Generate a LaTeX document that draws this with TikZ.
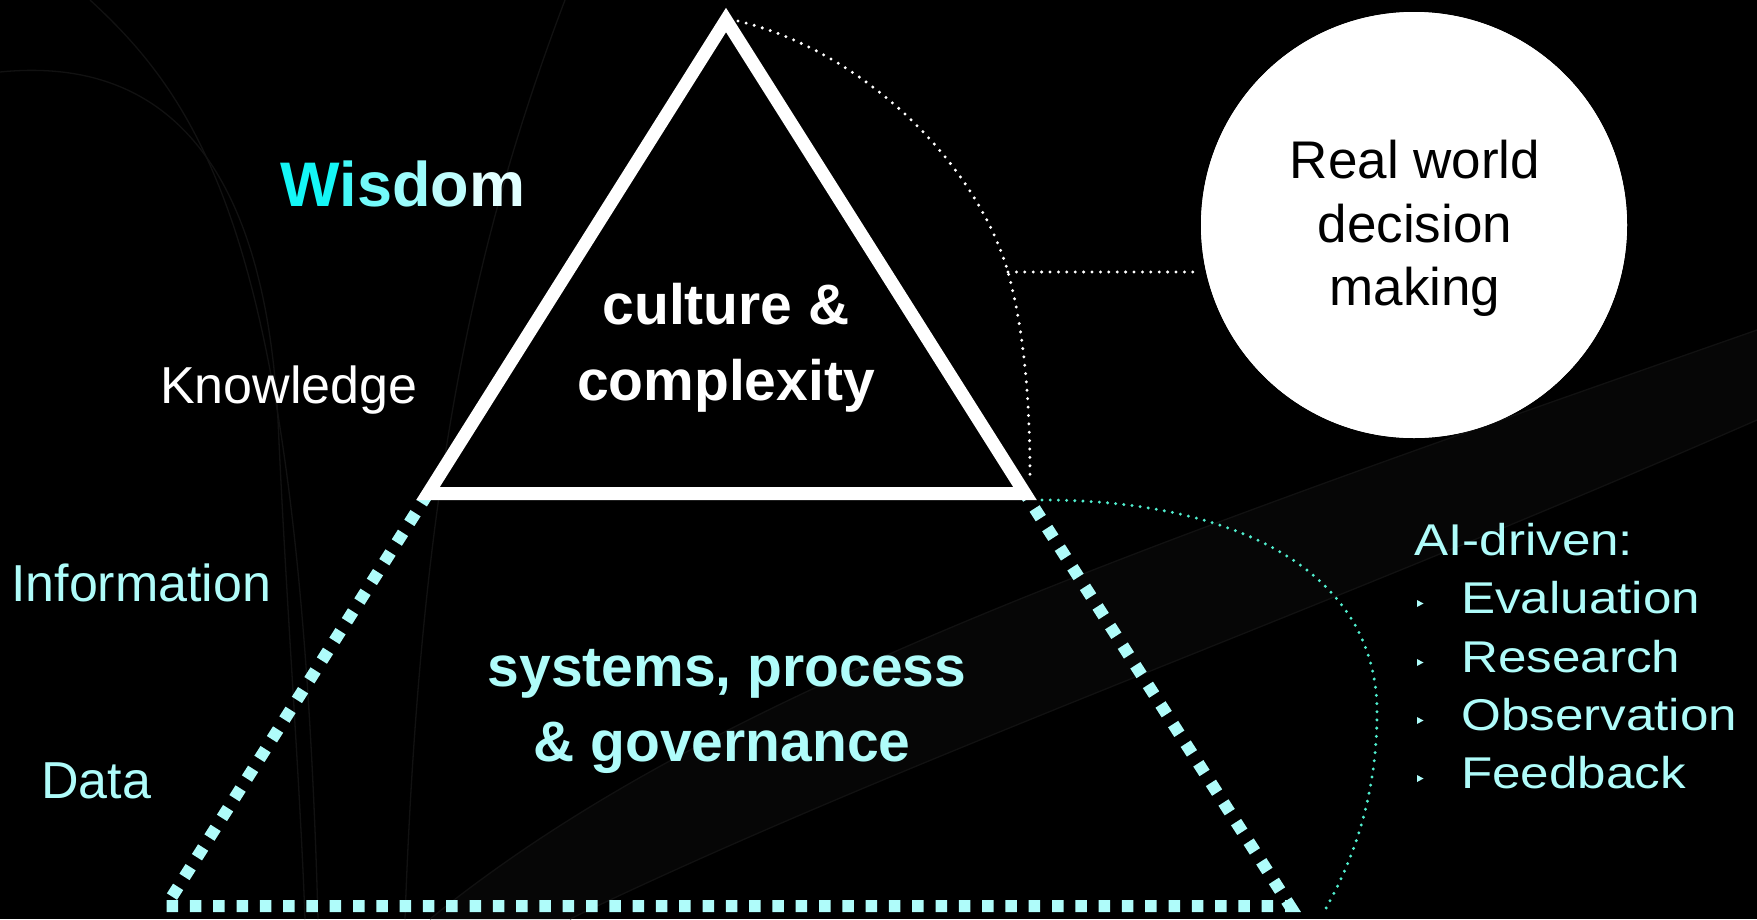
\documentclass[tikz,border=0pt]{standalone}
\usepackage{fontspec}
\setmainfont{Liberation Sans}
\newfontfamily\aifont[FakeStretch=1.15]{Liberation Sans}
\usetikzlibrary{calc}
\definecolor{cyanL}{RGB}{175,252,250}
\definecolor{tealC}{RGB}{80,238,206}
\definecolor{swooshC}{RGB}{17,17,17}
\definecolor{bandC}{RGB}{6,6,6}
\definecolor{wA}{RGB}{20,246,246}
\definecolor{wB}{RGB}{70,248,248}
\definecolor{wC}{RGB}{115,250,250}
\definecolor{wD}{RGB}{155,252,252}
\definecolor{wE}{RGB}{190,253,253}
\definecolor{wF}{RGB}{225,255,255}
\newcommand\setfs[1]{\fontsize{#1}{#1}\selectfont}
\begin{document}
\begin{tikzpicture}[x=1pt,y=-1pt,
  lbl/.style={inner sep=0pt, anchor=base west},
  ctr/.style={inner sep=0pt, anchor=base},
  whitedots/.style={draw=white, line width=3.3pt, line cap=round, dash pattern=on 0pt off 8.4pt},
  tealdots/.style={draw=tealC, line width=3.3pt, line cap=round, dash pattern=on 0pt off 8.2pt},
  sqdash/.style={draw=cyanL, line width=12pt, dash pattern=on 11.5pt off 11.8pt},
  tri/.style={draw=white, line width=13pt, line join=miter},
  swoosh/.style={draw=swooshC, line width=1.3pt},
  bigbold/.style={font=\setfs{57}\bfseries},
  plain52/.style={font=\setfs{52}},
  circtext/.style={ctr, font=\setfs{53}, text=black},
  aitext/.style={lbl, font=\aifont\setfs{44.5}, text=cyanL}]
\fill[black] (0,0) rectangle (1757,919);
\useasboundingbox (0,0) rectangle (1757,919);
% faint background swooshes
\fill[bandC] (430,919) .. controls (700,700) and (1100,560) .. (1757,330)
  -- (1757,420) .. controls (1300,620) and (900,760) .. (570,919) -- cycle;
\draw[swoosh] (430,919) .. controls (700,700) and (1100,560) .. (1757,330);
\draw[swoosh] (570,919) .. controls (900,760) and (1300,620) .. (1757,420);
\draw[swoosh] (0,72) .. controls (170,55) and (265,170) .. (278,420) .. controls (286,600) and (300,780) .. (305,919);
\draw[swoosh] (90,0) .. controls (210,110) and (300,260) .. (318,919);
\draw[swoosh] (565,0) .. controls (470,250) and (420,500) .. (405,919);
% key points
\coordinate (apex) at (726,20);
\coordinate (apexR) at (738,21);
\coordinate (wBL) at (428,493.5);
\coordinate (wBR) at (1025,493.5);
\coordinate (dBL) at (166,906);
\coordinate (dBR) at (1290,906);
\coordinate (junc) at (1008,272);
\coordinate (wEnd) at (1030,478);
\coordinate (tStart) at (1042,500);
\coordinate (tMid) at (1377,717);
\coordinate (tEnd) at (1325,910);
% circle
\node[circle, fill=white, minimum size=426pt, inner sep=0pt] (circ) at (1414,225) {};
% dotted connectors
\draw[whitedots] (apexR) .. controls (860,50) and (975,160) .. (junc)
  .. controls (1024,330) and (1030,400) .. (wEnd);
\draw[whitedots] (junc) -- (junc -| circ.west);
\draw[tealdots] (tStart) .. controls (1250,500) and (1380,580) .. (tMid)
  .. controls (1376,800) and (1352,862) .. (tEnd);
% redraw circle on top of the dotted line end
\node[circle, fill=white, minimum size=426pt, inner sep=0pt] (circtop) at (circ) {};
% lower dashed triangle
\draw[sqdash] (wBL) -- (dBL) -- (dBR) -- (wBR);
% upper white triangle
\draw[tri] (apex) -- (wBL) -- (wBR) -- cycle;
% left labels
\node[lbl, font=\setfs{63}\bfseries] (wis) at (280,206)
  {\textcolor{wA}{W}\textcolor{wB}{i}\textcolor{wC}{s}\textcolor{wD}{d}\textcolor{wE}{o}\textcolor{wF}{m}};
\node[lbl, plain52, text=white] (know) at (160,403) {Knowledge};
\node[lbl, plain52, text=cyanL] (info) at (11,601) {Information};
\node[lbl, plain52, text=cyanL] (data) at (41,798) {Data};
% triangle texts
\node[ctr, bigbold, text=white] (cul1) at (726,324) {culture \&};
\node[ctr, bigbold, text=white] (cul2) at (726,400) {complexity};
\node[ctr, bigbold, text=cyanL] (sys1) at (727,686) {systems, process};
\node[ctr, bigbold, text=cyanL] (sys2) at (722,761) {\& governance};
% circle text
\node[circtext] (rw1) at (1415,178) {Real world};
\node[circtext] (rw2) at (1415,242) {decision};
\node[circtext] (rw3) at (1415,305) {making};
% AI-driven list
\node[aitext] (ai) at (1414,555) {AI-driven:};
\foreach \t/\b in {Evaluation/613, Research/672, Observation/730, Feedback/788}{
  \node[aitext] (item\b) at (1461,\b) {\t};
  \fill[cyanL] (1417,\b-13) -- (1417,\b-6) -- (1423.5,\b-9.5) -- cycle;
}
\end{tikzpicture}
\end{document}
